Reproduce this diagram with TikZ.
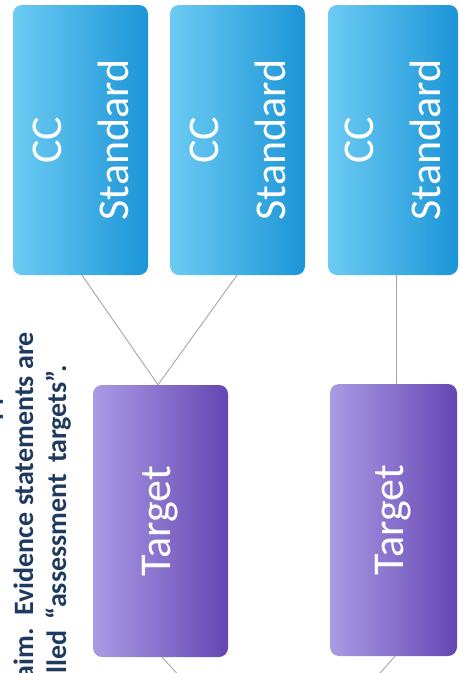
\documentclass[tikz,border=0pt]{standalone}
\usepackage{fontspec}
\setmainfont{Carlito}
\definecolor{bluelight}{HTML}{6CCBF3}
\definecolor{bluedark}{HTML}{1C95D7}
\definecolor{purplelight}{HTML}{A99BE5}
\definecolor{purpledark}{HTML}{6646B3}
\definecolor{navy}{HTML}{1F3A5E}
\definecolor{connc}{HTML}{A6A6A6}
\begin{document}
\begin{tikzpicture}[x=1pt,y=-1pt,
  stdbox/.style={rounded corners=9pt, left color=bluelight, right color=bluedark, draw=none, inner sep=0pt, minimum width=135pt, minimum height=270pt},
  tgtbox/.style={rounded corners=9pt, left color=purplelight, right color=purpledark, draw=none, inner sep=0pt, minimum width=135pt, minimum height=272pt},
  boxtext/.style={text=white, rotate=90, align=center, inner sep=0pt, font=\fontsize{44}{67}\selectfont},
  conn/.style={draw=connc, line width=0.9pt},
  note/.style={text=navy, rotate=90, anchor=base east, inner sep=0pt, font=\bfseries\fontsize{28}{33}\selectfont}]
\useasboundingbox (0,0) rectangle (460,673);
\clip (0,0) rectangle (460,673);
% standard boxes
\node[stdbox] (b1) at (80.5,140) {};
\node[stdbox] (b2) at (237.5,140) {};
\node[stdbox, minimum width=130pt] (b3) at (393,140) {};
\node[boxtext] (t1) at (b1) {CC\\Standard};
\node[boxtext] (t2) at (b2) {CC\\Standard};
\node[boxtext] (t3) at (b3) {CC\\Standard};
% target boxes
\node[tgtbox] (p1) at (160.5,521) {};
\node[tgtbox, minimum width=127pt] (p2) at (393.5,520) {};
\node[boxtext] (g1) at (p1) {Target};
\node[boxtext] (g2) at (p2) {Target};
% connectors
\coordinate (c1) at (184,681);
\coordinate (c2) at (373,681);
\draw[conn] ([xshift=1.5pt]b1.south) -- ([xshift=-2.5pt]p1.north);
\draw[conn] ([xshift=-0.5pt]b2.south) -- ([xshift=-2.5pt]p1.north);
\draw[conn] ([xshift=3pt]b3.south) -- ([xshift=2.5pt]p2.north);
\draw[conn] ([xshift=1.5pt]p1.south) -- (c1);
\draw[conn] ([xshift=1.5pt]p2.south) -- (c2);
% note text
\node[note] (n1) at (-1.5,310) {evidence needed to support the};
\node[note] (n2) at (33,332) {claim.\, Evidence statements are};
\node[note] (n3) at (66,365) {called \,\textquotedblleft assessment\, targets\textquotedblright.};
\end{tikzpicture}
\end{document}
